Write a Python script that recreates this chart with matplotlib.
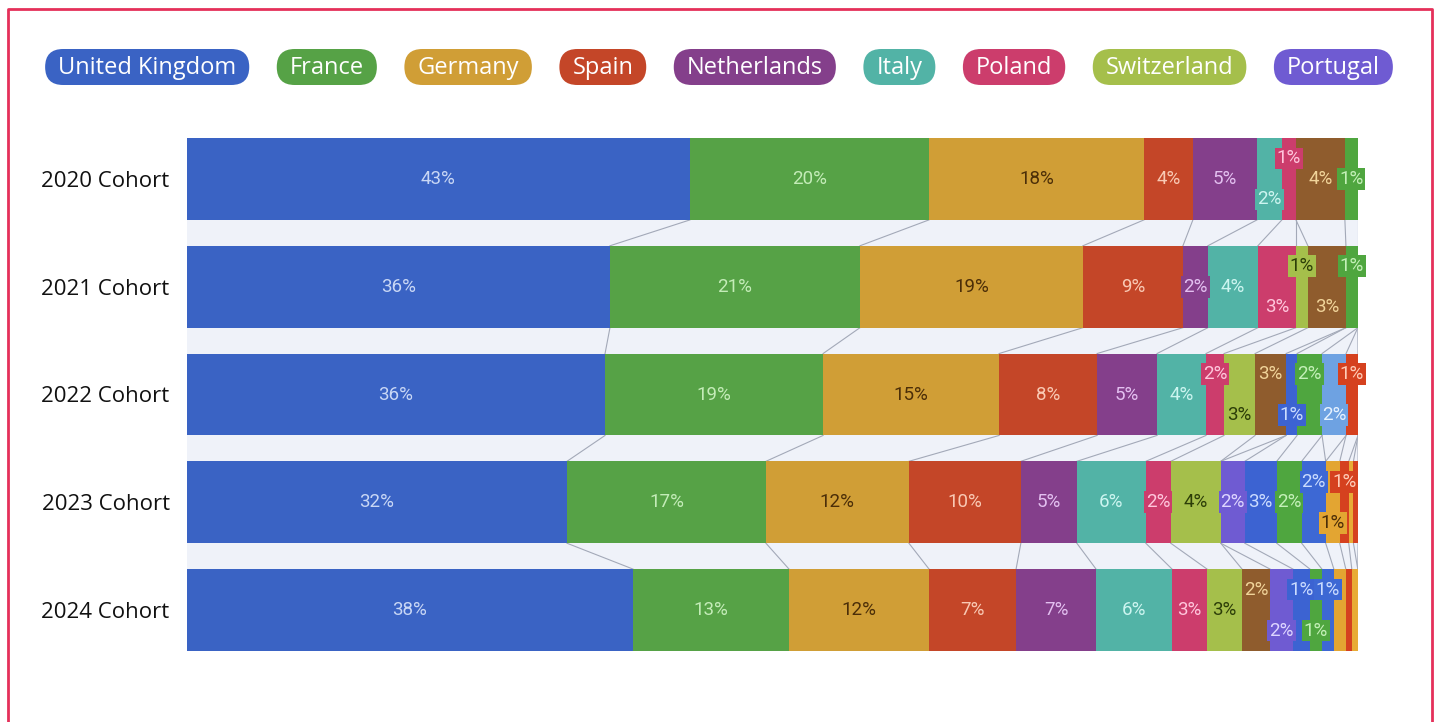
import matplotlib.pyplot as plt
import numpy as np
from matplotlib.patches import FancyBboxPatch

# ---- data (share of each cohort, %) ----
cohorts = ['2020 Cohort', '2021 Cohort', '2022 Cohort', '2023 Cohort', '2024 Cohort']
countries = ['United Kingdom', 'France', 'Germany', 'Spain', 'Netherlands', 'Italy',
             'Poland', 'Switzerland', 'Other 1', 'Portugal', 'Other 2', 'Other 3',
             'Other 4', 'Other 5', 'Other 6', 'Other 7', 'Other 8', 'Other 9']
legend_names = ['United Kingdom', 'France', 'Germany', 'Spain', 'Netherlands',
                'Italy', 'Poland', 'Switzerland', 'Portugal']

uk = [42.95, 36.12, 35.70, 32.45, 38.09]
france = [20.41, 21.35, 18.62, 16.99, 13.32]
germany = [18.36, 19.04, 15.03, 12.21, 11.96]
spain = [4.18, 8.54, 8.37, 9.56, 7.43]
netherlands = [5.47, 2.13, 5.12, 4.78, 6.83]
italy = [2.13, 4.27, 4.18, 5.89, 6.49]
poland = [1.20, 3.25, 1.54, 2.13, 2.99]
switzerland = [0, 1.02, 2.65, 4.27, 2.99]
other1 = [4.18, 3.25, 2.65, 0, 2.39]
portugal = [0, 0, 0, 2.05, 1.96]
other2 = [0, 0, 0.94, 2.73, 1.45]
other3 = [1.11, 1.02, 2.13, 2.13, 1.02]
other4 = [0, 0, 0, 2.05, 1.02]
other5 = [0, 0, 2.05, 0, 0]
other6 = [0, 0, 0, 1.20, 1.02]
other7 = [0, 0, 1.02, 0.77, 0.51]
other8 = [0, 0, 0, 0.40, 0.51]
other9 = [0, 0, 0, 0.40, 0]

values = np.array([uk, france, germany, spain, netherlands, italy, poland, switzerland,
                   other1, portugal, other2, other3, other4, other5, other6, other7,
                   other8, other9])

# ---- styling ----
bar_colors = ['#3a63c4', '#56a246', '#d09e36', '#c44628', '#843f8b', '#52b3a6',
              '#cc3d6c', '#a5bf4b', '#8f5c2d', '#6f5bd2', '#3c63d2', '#4fa63f',
              '#3d68d4', '#6ea2e2', '#e3a532', '#d5411f', '#e8ab36', '#d5411f']
text_colors = ['#c9d7f5', '#c4ecb8', '#4b2e08', '#f9c9b4', '#e3c0f0', '#cdf5f0',
               '#ffc6dc', '#2c3d08', '#f1d49a', '#ded6ff', '#cbdcff', '#c4f0b8',
               '#cbdcff', '#e6f2ff', '#4b2e08', '#ffcdb8', '#4b2e08', '#ffcdb8']
# label placement for narrow segments: 't' above centre, 'b' below, None hidden
label_place = {
    (0, 'Italy'): 'b', (0, 'Poland'): 't',
    (1, 'Poland'): 'b', (1, 'Switzerland'): 't', (1, 'Other 1'): 'b', (1, 'Other 3'): 't',
    (2, 'Poland'): 't', (2, 'Switzerland'): 'b', (2, 'Other 1'): 't', (2, 'Other 2'): 'b',
    (2, 'Other 3'): 't', (2, 'Other 5'): 'b', (2, 'Other 7'): 't',
    (3, 'Other 4'): 't', (3, 'Other 6'): 'b', (3, 'Other 7'): 't',
    (3, 'Other 8'): None, (3, 'Other 9'): None,
    (4, 'Other 1'): 't', (4, 'Portugal'): 'b', (4, 'Other 2'): 't', (4, 'Other 3'): 'b',
    (4, 'Other 4'): 't', (4, 'Other 6'): None, (4, 'Other 7'): None, (4, 'Other 8'): None,
}
ui_font = ['Open Sans', 'DejaVu Sans']
num_font = ['Roboto', 'DejaVu Sans']

W, H = 1438, 722
fig = plt.figure(figsize=(W / 100, H / 100), dpi=100)
fig.patch.set_facecolor('white')

# full-figure pixel canvas for border and legend pills
frame = fig.add_axes([0, 0, 1, 1])
frame.set_xlim(0, W)
frame.set_ylim(H, 0)
frame.axis('off')
frame.plot([8, 8, 1432, 1432], [H + 10, 9, 9, H + 10], color='#e5305a', lw=2)

renderer = fig.canvas.get_renderer()
texts, widths = [], []
for name in legend_names:
    t = frame.text(0, 74, name, color='white', fontsize=17, family=ui_font,
                   ha='center', va='baseline', zorder=3)
    texts.append(t)
    widths.append(t.get_window_extent(renderer).width)
pad, gap, pill_h = 13, 27.5, 36
total = sum(w + 2 * pad for w in widths) + gap * (len(widths) - 1)
x = W / 2 - total / 2
for t, w, name in zip(texts, widths, legend_names):
    pw = w + 2 * pad
    col = bar_colors[countries.index(name)]
    frame.add_patch(FancyBboxPatch((x, 67 - pill_h / 2), pw, pill_h,
                                   boxstyle='round,pad=0,rounding_size=18',
                                   fc=col, ec='none', zorder=2))
    t.set_x(x + pw / 2)
    x += pw + gap

# ---- main stacked bar chart ----
ax = fig.add_axes([187 / W, (H - 651) / H, 1171 / W, 513 / H])
ax.set_facecolor('#eff2f9')
bar_h = 0.76
ypos = np.arange(len(cohorts))
lefts = np.vstack([np.zeros(len(cohorts)), np.cumsum(values, axis=0)[:-1]])
ends = np.cumsum(values, axis=0)

for k, name in enumerate(countries):
    ax.barh(ypos, values[k], left=lefts[k], height=bar_h, color=bar_colors[k],
            edgecolor='none', zorder=2)

# connectors between consecutive cohorts
for i in range(len(cohorts) - 1):
    for k in range(len(countries)):
        if values[k, i] == 0 and values[k, i + 1] == 0:
            continue
        ax.plot([ends[k, i], ends[k, i + 1]],
                [ypos[i] + bar_h / 2, ypos[i + 1] - bar_h / 2],
                color='#a3a9b8', lw=0.8, zorder=1)

# percentage labels
for i in range(len(cohorts)):
    for k, name in enumerate(countries):
        v = values[k, i]
        if v == 0:
            continue
        place = label_place.get((i, name), 'c')
        if place is None:
            continue
        dy = {'c': 0, 't': -0.19, 'b': 0.19}[place]
        ax.text(lefts[k, i] + v / 2, ypos[i] + dy, f'{v:.0f}%', ha='center', va='center',
                fontsize=13.5, family=num_font, color=text_colors[k], zorder=4,
                bbox=dict(boxstyle='square,pad=0.1', fc=bar_colors[k], ec='none'))

ax.set_xlim(0, 100)
ax.set_ylim(len(cohorts) - 1 + 0.38, -0.38)
ax.set_xticks([])
ax.set_yticks(ypos, cohorts)
ax.tick_params(axis='y', length=0, pad=12.5, labelsize=16, labelcolor='#111111')
for lab in ax.get_yticklabels():
    lab.set_family(ui_font)
for s in ax.spines.values():
    s.set_visible(False)

fig.savefig('out.png', dpi=100)
